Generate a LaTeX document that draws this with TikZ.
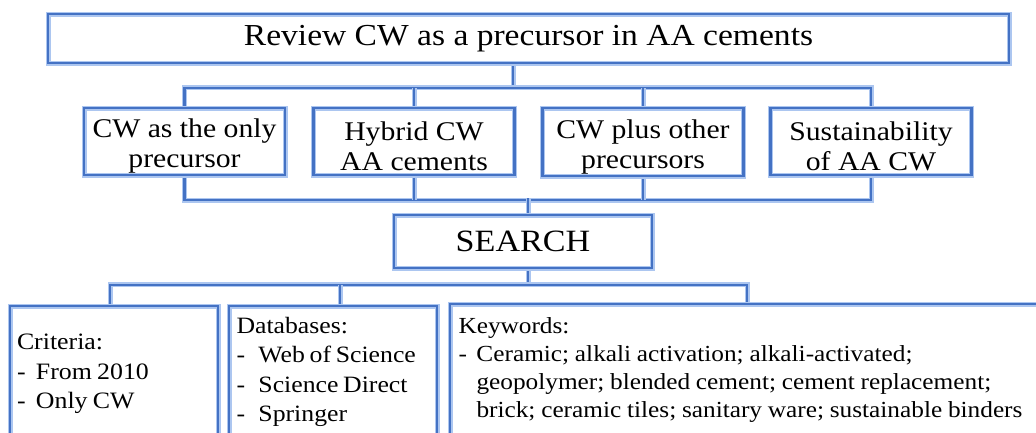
\documentclass[tikz,border=0pt]{standalone}
\usepackage{fontspec}
\setmainfont[FakeStretch=1.1]{Liberation Serif}
\definecolor{core}{RGB}{68,114,196}
\definecolor{halo}{RGB}{172,198,240}
\pgfdeclarelayer{bg}
\pgfsetlayers{bg,main}
\tikzset{
  wire/.style={draw=core, line width=2.4pt, preaction={draw=halo, line width=5pt}},
  boxstyle/.style={rectangle, draw=core, line width=2.4pt, preaction={fill=white}, preaction={draw=halo, line width=5pt}, inner sep=0pt},
  topbox/.style={boxstyle, minimum width=961pt, minimum height=49pt, font=\fontsize{30.5}{36}\selectfont},
  midbox/.style={boxstyle, minimum width=201pt, minimum height=67pt},
  midtext/.style={inner sep=0pt, align=center, font=\fontsize{27}{30}\selectfont},
  searchbox/.style={boxstyle, minimum width=258pt, minimum height=53pt, font=\fontsize{31}{36}\selectfont},
  lowbox/.style={boxstyle, minimum height=130pt},
  lowtext/.style={inner sep=0pt, anchor=west, align=left, font=\fontsize{23.5}{29.5}\selectfont}
}
\begin{document}
\begin{tikzpicture}[x=1pt, y=-1pt]
\useasboundingbox (0,0) rectangle (1036,432);
\clip (0,0) rectangle (1036,432);

\node[topbox] (top) at (528.5,38.5) {Review CW as a precursor in AA cements};

\node[midbox] (b1) at (184.5,141.5) {};
\node[midbox] (b2) at (414,141.5) {};
\node[midbox, minimum height=68pt] (b3) at (643,142) {};
\node[midbox] (b4) at (871,141.5) {};
\node[midtext] (t1) at ([yshift=-5pt]b1.center) {CW as the only\\precursor};
\node[midtext] (t2) at ([yshift=-5pt]b2.center) {Hybrid CW\\AA cements};
\node[midtext] (t3) at ([yshift=-5pt]b3.center) {CW plus other\\precursors};
\node[midtext] (t4) at ([yshift=-5pt]b4.center) {Sustainability\\of AA CW};

\node[searchbox] (search) at (523,241.5) {SEARCH};

\node[lowbox, minimum width=208pt] (ca) at (114,371) {};
\node[lowbox, minimum width=208pt] (db) at (333,371) {};
\node[lowbox, minimum width=594pt, minimum height=132pt] (kw) at (747,370) {};

\node[lowtext, text width=192pt] (cat) at ([xshift=8pt,yshift=-3pt]ca.west)
  {\spaceskip=0.22em\relax Criteria:\\\makebox[19pt][l]{-}From 2010\\\makebox[19pt][l]{-}Only CW};
\node[lowtext, text width=191pt, font=\fontsize{23.4}{29.5}\selectfont] (dbt) at ([xshift=8.5pt,yshift=-1pt]db.west)
  {\spaceskip=0.2em\relax Databases:\\\makebox[22pt][l]{-}Web of Science\\\makebox[22pt][l]{-}Science Direct\\\makebox[22pt][l]{-}Springer};
\node[lowtext, text width=576pt, font=\fontsize{23}{28}\selectfont] (kwt) at ([xshift=9.5pt]kw.west)
  {\spaceskip=0.25em\relax Keywords:\\\makebox[18pt][l]{-}Ceramic; alkali activation; alkali-activated;\\\hspace*{18pt}geopolymer; blended cement; cement replacement;\\\hspace*{18pt}brick; ceramic tiles; sanitary ware; sustainable binders};

\begin{pgfonlayer}{bg}
\draw[wire] ([xshift=-15.5pt]top.south) -- ++(0,26);
\draw[wire] (b1.north) -- ++(0,-19) -| (b4.north);
\draw[wire] (b2.north) -- ++(0,-19);
\draw[wire] (b3.north) -- ++(0,-19);
\draw[wire] (b1.south) -- ++(0,24) -| (b4.south);
\draw[wire] (b2.south) -- ++(0,24);
\draw[wire] (b3.south) -- ++(0,23);
\draw[wire] ([xshift=5pt]search.north) -- ++(0,-16);
\draw[wire] ([xshift=5pt]search.south) -- ++(0,18);
\draw[wire] ([xshift=-4pt]ca.north) -- ++(0,-20) -| (kw.north);
\draw[wire] ([xshift=7pt]db.north) -- ++(0,-20);
\end{pgfonlayer}
\end{tikzpicture}
\end{document}
